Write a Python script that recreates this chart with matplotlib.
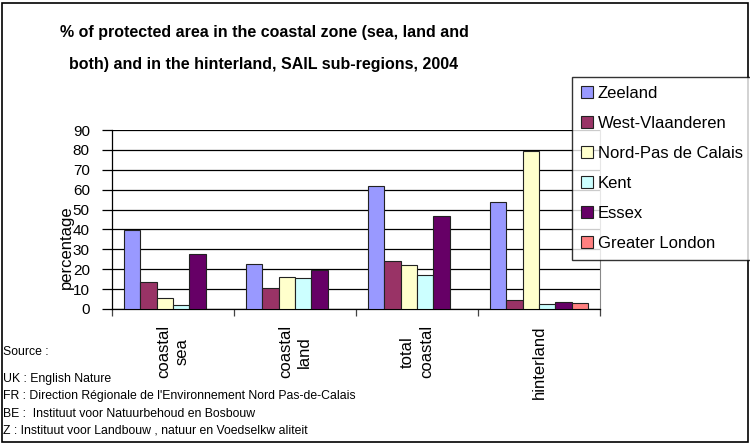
import matplotlib
matplotlib.use("Agg")
import matplotlib.pyplot as plt
from matplotlib.patches import Rectangle
import numpy as np

plt.rcParams["font.family"] = ["Liberation Sans", "DejaVu Sans"]

categories = ["coastal\nsea", "coastal\nland", "total\ncoastal", "hinterland"]
regions = ["Zeeland", "West-Vlaanderen", "Nord-Pas de Calais", "Kent", "Essex", "Greater London"]
colors = ["#9999FF", "#993366", "#FFFFCC", "#CCFFFF", "#660066", "#FF8080"]

zeeland = [39.5, 22.5, 62.0, 54.0]
west_vlaanderen = [13.4, 10.7, 24.2, 4.5]
nord_pas = [5.7, 16.2, 22.2, 79.3]
kent = [1.8, 15.5, 17.2, 2.5]
essex = [27.8, 19.5, 46.8, 3.7]
greater_london = [np.nan, np.nan, np.nan, 3.0]
series = [zeeland, west_vlaanderen, nord_pas, kent, essex, greater_london]

yticks = list(range(0, 100, 10))

source_lines = [
    "UK : English Nature",
    "FR : Direction Régionale de l'Environnement Nord Pas-de-Calais",
    "BE :  Instituut voor Natuurbehoud en Bosbouw",
    "Z : Instituut voor Landbouw , natuur en Voedselkw aliteit",
]

W, H = 750, 443
fig = plt.figure(figsize=(W / 100, H / 100), dpi=100, facecolor="white")
ax = fig.add_axes([112 / W, 1 - 309 / H, (600 - 112) / W, (309 - 130) / H])

x = np.arange(len(categories))
bw = 1 / 7.5
for i, (vals, col, name) in enumerate(zip(series, colors, regions)):
    ax.bar(x + (i - 2.5) * bw, vals, width=bw, color=col, edgecolor="#222222",
           linewidth=0.8, label=name, zorder=3)

ax.set_xlim(-0.5, len(categories) - 0.5)
ax.set_ylim(0, 90)
ax.set_yticks(yticks)
ax.set_yticklabels([str(v) for v in yticks], fontsize=11)
ax.yaxis.grid(True, color="black", linewidth=0.9, zorder=0)
ax.set_axisbelow(True)

ax.set_xticks(np.arange(len(categories) + 1) - 0.5)
ax.set_xticklabels([])
ax.tick_params(axis="x", direction="out", length=5, width=0.9, color="#444444")
ax.tick_params(axis="y", direction="out", length=7, width=0.9, pad=9)

ax.spines["top"].set_visible(False)
ax.spines["right"].set_color("#888888")
ax.spines["left"].set_linewidth(0.9)
ax.spines["bottom"].set_linewidth(0.9)

for xi, lab in zip(x, categories):
    ax.text(xi, -0.09, lab, rotation=90, ha="center", va="top", multialignment="center",
            fontsize=12, transform=ax.get_xaxis_transform(), linespacing=1.3)

fig.text(66 / W, 1 - 247 / H, "percentage", rotation=90, ha="center", va="center", fontsize=12)

fig.text(264 / W, 1 - 33 / H, "% of protected area in the coastal zone (sea, land and",
         ha="center", va="center", fontsize=11.5, fontweight="bold")
fig.text(264 / W, 1 - 65 / H, "both) and in the hinterland, SAIL sub-regions, 2004",
         ha="center", va="center", fontsize=11.5, fontweight="bold")

leg = fig.legend(loc="upper left", bbox_to_anchor=(572 / W, 1 - 77 / H), fontsize=12,
                 frameon=True, fancybox=False, edgecolor="black", borderpad=0.55,
                 labelspacing=0.9, handlelength=0.7, handleheight=0.7,
                 handletextpad=0.3, borderaxespad=0)
leg.get_frame().set_linewidth(1.0)
leg.set_zorder(10)

fig.text(3 / W, 1 - 352 / H, "Source :", ha="left", va="center", fontsize=8.8)
for k, line in enumerate(source_lines):
    fig.text(3 / W, 1 - (379 + k * 17.3) / H, line, ha="left", va="center", fontsize=8.8)

fig.patches.append(Rectangle((2 / W, 1 / H), (W - 4) / W, (H - 4) / H, transform=fig.transFigure,
                             fill=False, edgecolor="black", linewidth=1.2))

fig.savefig("out.png", dpi=100, facecolor="white")
